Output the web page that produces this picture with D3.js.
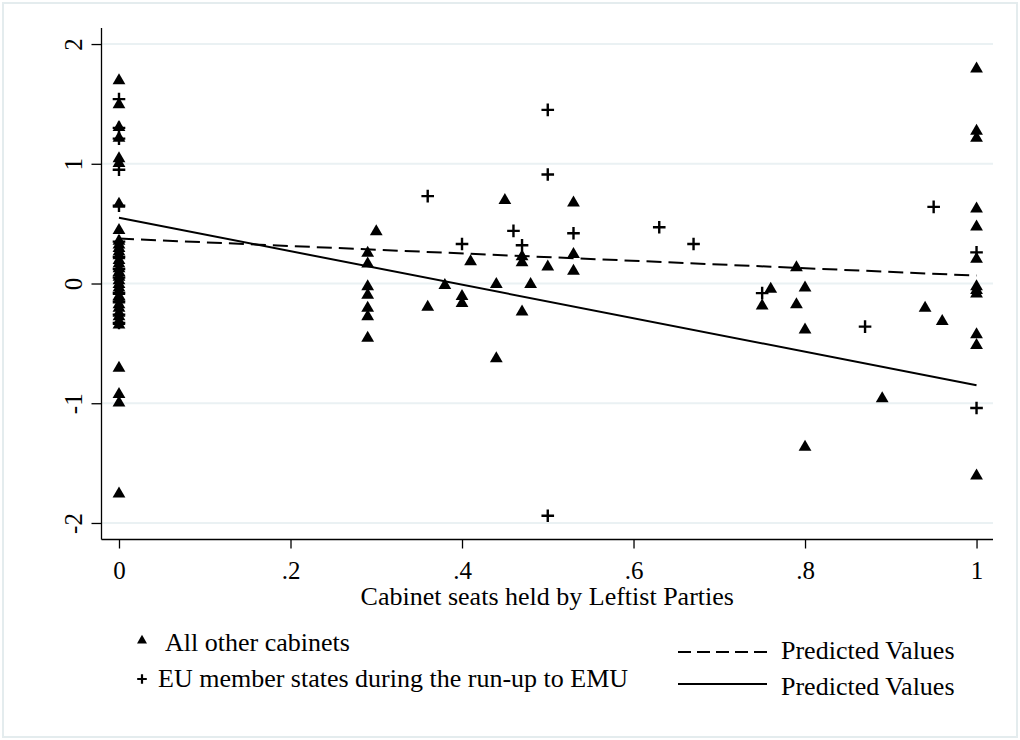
<!DOCTYPE html>
<html>
<head>
<meta charset="utf-8">
<script src="https://cdn.jsdelivr.net/npm/d3@7"></script>
<style>
  body { margin: 0; background: #fff; }
  svg text { font-family: "Liberation Serif", "Times New Roman", serif; fill: #000; }
</style>
</head>
<body>
<div id="chart"></div>
<script>
// all other cabinets (triangles)
var triX = [
  0, 0, 0, 0, 0, 0, 0, 0, 0, 0, 0, 0, 0, 0, 0, 0, 0, 0, 0, 0, 0, 0, 0, 0, 0, 0, 0, 0, 0, 0, 0, 0, 0, 0,
  0.29, 0.29, 0.29, 0.29, 0.29, 0.29, 0.29, 0.30,
  0.36, 0.38, 0.40, 0.40, 0.41, 0.44, 0.44, 0.45, 0.47, 0.47, 0.47, 0.48, 0.50, 0.53, 0.53, 0.53,
  0.75, 0.76, 0.79, 0.79, 0.80, 0.80, 0.80, 0.89, 0.94, 0.96,
  1, 1, 1, 1, 1, 1, 1, 1, 1, 1, 1, 1
];
var triY = [
  1.70, 1.50, 1.31, 1.22, 1.05, 1.01, 0.67, 0.45, 0.36, 0.33, 0.30, 0.27, 0.24, 0.20, 0.17, 0.13, 0.10,
  0.06, 0.03, 0.00, -0.03, -0.06, -0.10, -0.13, -0.17, -0.20, -0.24, -0.27, -0.31, -0.34, -0.70, -0.92, -0.99, -1.75,
  0.26, 0.17, -0.02, -0.09, -0.20, -0.27, -0.45, 0.44,
  -0.19, -0.01, -0.10, -0.16, 0.19, 0.00, -0.62, 0.70, 0.23, 0.18, -0.23, 0.00, 0.145, 0.68, 0.25, 0.11,
  -0.18, -0.04, 0.14, -0.17, -0.03, -0.38, -1.36, -0.955, -0.20, -0.31,
  1.80, 1.28, 1.22, 0.63, 0.48, 0.21, -0.02, -0.05, -0.08, -0.42, -0.51, -1.60
];

// EU member states during the run-up to EMU (plus signs)
var plusX = [
  0, 0, 0, 0, 0, 0, 0, 0, 0, 0, 0, 0, 0,
  0.36, 0.40, 0.46, 0.47, 0.50, 0.50, 0.50, 0.53, 0.63, 0.67, 0.75, 0.87, 0.95, 1, 1
];
var plusY = [
  1.54, 1.30, 1.21, 0.95, 0.65, 0.35, 0.22, 0.12, 0.05, -0.08, -0.15, -0.26, -0.33,
  0.73, 0.33, 0.44, 0.32, 1.45, 0.91, -1.94, 0.42, 0.47, 0.33, -0.08, -0.36, 0.64, 0.26, -1.04
];

// predicted values (fit lines)
var fitX = [0, 1];
var fitDashedY = [0.375, 0.066];
var fitSolidY = [0.55, -0.85];

var xTicks = [0, 0.2, 0.4, 0.6, 0.8, 1];
var xTickLabels = ["0", ".2", ".4", ".6", ".8", "1"];
var yTicks = [-2, -1, 0, 1, 2];

var width = 1020, height = 740;
var svg = d3.select("#chart").append("svg")
  .attr("width", width)
  .attr("height", height);

// outer frame
svg.append("rect")
  .attr("x", 3).attr("y", 3)
  .attr("width", width - 6).attr("height", height - 6)
  .attr("fill", "#fff")
  .attr("stroke", "#e4ecee")
  .attr("stroke-width", 2);

var plotLeft = 101.5, plotRight = 993, plotTop = 28, plotBottom = 539.5;

var x = d3.scaleLinear().domain([-0.0204, 1.0192]).range([plotLeft, plotRight]);
var y = d3.scaleLinear().domain([-2.138, 2.134]).range([plotBottom, plotTop]);

// gridlines
svg.append("g")
  .selectAll("line")
  .data(yTicks)
  .enter().append("line")
  .attr("x1", plotLeft).attr("x2", plotRight)
  .attr("y1", function(d) { return y(d); })
  .attr("y2", function(d) { return y(d); })
  .attr("stroke", "#eaf1f3")
  .attr("stroke-width", 2);

// y axis
var yAxis = svg.append("g")
  .attr("transform", "translate(" + plotLeft + ",0)")
  .call(d3.axisLeft(y).tickValues(yTicks).tickSize(10).tickPadding(0).tickFormat(d3.format("d")));
yAxis.select(".domain").attr("d", "M0," + plotTop + "V" + plotBottom).attr("stroke", "#000").attr("stroke-width", 1.3);
yAxis.selectAll(".tick line").attr("stroke", "#000").attr("stroke-width", 1.3);
yAxis.selectAll(".tick text")
  .attr("x", null).attr("dy", null)
  .attr("transform", "translate(-20,0) rotate(-90)")
  .attr("text-anchor", "middle")
  .attr("font-size", 25)
  .text(function(d) { return d < 0 ? "-" + Math.abs(d) : d; });

// x axis
var xAxis = svg.append("g")
  .attr("transform", "translate(0," + plotBottom + ")")
  .call(d3.axisBottom(x).tickValues(xTicks).tickSize(9).tickPadding(0)
    .tickFormat(function(d, i) { return xTickLabels[i]; }));
xAxis.select(".domain").attr("d", "M" + plotLeft + ",0H" + plotRight).attr("stroke", "#000").attr("stroke-width", 1.3);
xAxis.selectAll(".tick line").attr("stroke", "#000").attr("stroke-width", 1.3);
xAxis.selectAll(".tick text")
  .attr("y", 39).attr("dy", null)
  .attr("font-size", 25);

svg.append("text")
  .attr("x", (plotLeft + plotRight) / 2)
  .attr("y", 605)
  .attr("text-anchor", "middle")
  .attr("font-size", 26)
  .text("Cabinet seats held by Leftist Parties");

// markers
var triPath = "M0,-6.6L6.4,4.4L-6.4,4.4Z";
var plusPath = "M-6.3,0H6.3M0,-6.3V6.3";

svg.append("g")
  .selectAll("path")
  .data(d3.range(triX.length))
  .enter().append("path")
  .attr("d", triPath)
  .attr("transform", function(i) { return "translate(" + x(triX[i]) + "," + y(triY[i]) + ")"; })
  .attr("fill", "#000");

svg.append("g")
  .selectAll("path")
  .data(d3.range(plusX.length))
  .enter().append("path")
  .attr("d", plusPath)
  .attr("transform", function(i) { return "translate(" + x(plusX[i]) + "," + y(plusY[i]) + ")"; })
  .attr("fill", "none")
  .attr("stroke", "#000")
  .attr("stroke-width", 2.4);

// fit lines
var line = d3.line()
  .x(function(d) { return x(d[0]); })
  .y(function(d) { return y(d[1]); });

svg.append("path")
  .datum(d3.zip(fitX, fitDashedY))
  .attr("d", line)
  .attr("fill", "none")
  .attr("stroke", "#000")
  .attr("stroke-width", 2)
  .attr("stroke-dasharray", "15,7");

svg.append("path")
  .datum(d3.zip(fitX, fitSolidY))
  .attr("d", line)
  .attr("fill", "none")
  .attr("stroke", "#000")
  .attr("stroke-width", 2);

// legend
var legend = svg.append("g");
legend.append("path")
  .attr("d", "M0,-5.2L5,3.4L-5,3.4Z")
  .attr("transform", "translate(142,640)")
  .attr("fill", "#000");
legend.append("text")
  .attr("x", 165).attr("y", 651)
  .attr("font-size", 26)
  .text("All other cabinets");
legend.append("path")
  .attr("d", "M-4.8,0H4.8M0,-4.8V4.8")
  .attr("transform", "translate(142,679)")
  .attr("stroke", "#000")
  .attr("stroke-width", 2.2);
legend.append("text")
  .attr("x", 158).attr("y", 687)
  .attr("font-size", 26)
  .text("EU member states during the run-up to EMU");

legend.append("line")
  .attr("x1", 678).attr("x2", 767)
  .attr("y1", 652).attr("y2", 652)
  .attr("stroke", "#000").attr("stroke-width", 2)
  .attr("stroke-dasharray", "13,6");
legend.append("text")
  .attr("x", 781).attr("y", 659)
  .attr("font-size", 26)
  .text("Predicted Values");
legend.append("line")
  .attr("x1", 678).attr("x2", 767)
  .attr("y1", 684).attr("y2", 684)
  .attr("stroke", "#000").attr("stroke-width", 2);
legend.append("text")
  .attr("x", 781).attr("y", 695)
  .attr("font-size", 26)
  .text("Predicted Values");
</script>
</body>
</html>
